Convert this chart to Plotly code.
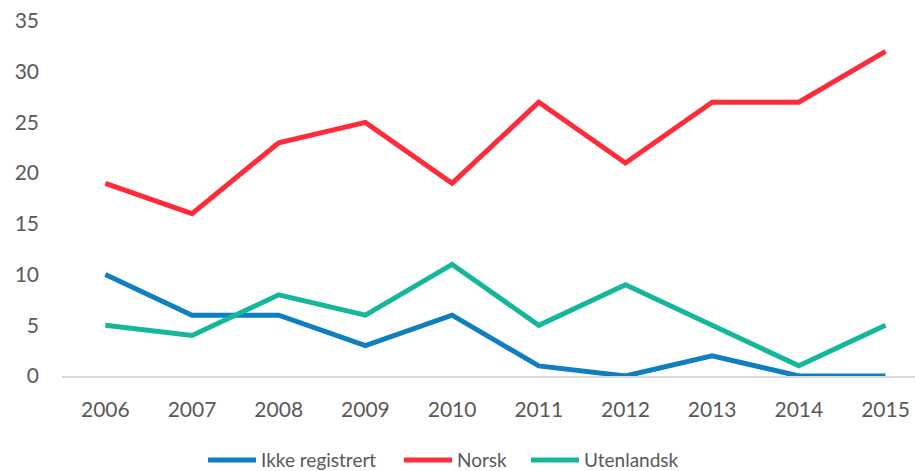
import plotly.graph_objects as go

years = ["2006", "2007", "2008", "2009", "2010", "2011", "2012", "2013", "2014", "2015"]
ikke_registrert = [10, 6, 6, 3, 6, 1, 0, 2, 0, 0]
norsk = [19, 16, 23, 25, 19, 27, 21, 27, 27, 32]
utenlandsk = [5, 4, 8, 6, 11, 5, 9, 5, 1, 5]

series = [
    ("Ikke registrert", ikke_registrert, "#0F7FC0", "legend", 203),
    ("Norsk", norsk, "#FF2B3B", "legend2", 399),
    ("Utenlandsk", utenlandsk, "#14B79A", "legend3", 526),
]

L, W = 62, 853

fig = go.Figure()
legend_layout = {}
for name, vals, color, leg, px in series:
    fig.add_trace(go.Scatter(x=years, y=vals, name=name, mode="lines", legend=leg,
                             line=dict(color=color, width=5)))
    legend_layout[leg] = dict(orientation="h", x=(px - L) / W, xanchor="left",
                              y=-0.237, yanchor="middle", itemwidth=48,
                              bgcolor="rgba(0,0,0,0)", borderwidth=0,
                              font=dict(size=19, color="#595959"))

fig.update_layout(
    width=915, height=471,
    margin=dict(l=L, r=0, t=21, b=95, autoexpand=False),
    paper_bgcolor="white", plot_bgcolor="white",
    font=dict(family="Lato, Open Sans, sans-serif", size=21, color="#595959"),
    showlegend=True,
    xaxis=dict(type="category", range=[-0.5, 9.34], showgrid=False, zeroline=False,
               showline=True, linecolor="#D9D9D9", linewidth=2, ticks="",
               ticklabelstandoff=14, automargin=False),
    yaxis=dict(range=[0, 35], dtick=5, showgrid=False, zeroline=False, showline=False,
               ticks="", ticklabelstandoff=22, automargin=False),
    **legend_layout,
)

fig.write_html("out.html", post_script="document.body.style.margin='0';",
               config={"displayModeBar": False})
